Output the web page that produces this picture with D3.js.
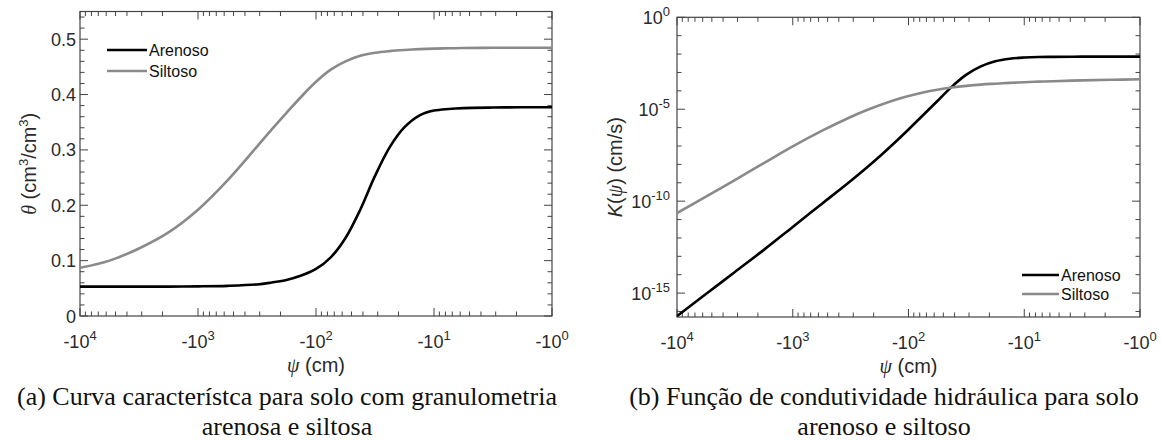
<!DOCTYPE html>
<html>
<head>
<meta charset="utf-8">
<script src="https://cdn.jsdelivr.net/npm/d3@7"></script>
<style>
  html, body { margin: 0; padding: 0; background: #fff; }
  svg { display: block; }
</style>
</head>
<body>
<svg id="chart" width="1161" height="441"></svg>
<script>
// ---------------- DATA ----------------
const psi = [-10000, -5623, -3162, -1778, -1000, -562.3, -316.2, -237.1, -177.8, -133.4, -100, -74.99, -56.23, -42.17, -31.62, -23.71, -17.78, -13.34, -10, -7.499, -5.623, -3.162, -1.778, -1];
const seriesNames = ["Arenoso", "Siltoso"];
const thetaArenoso = [0.053, 0.053, 0.053, 0.053, 0.0535, 0.0545, 0.057, 0.0605, 0.065, 0.073, 0.085, 0.106, 0.141, 0.192, 0.253, 0.305, 0.341, 0.362, 0.371, 0.374, 0.3755, 0.3765, 0.377, 0.377];
const thetaSiltoso = [0.087, 0.100, 0.122, 0.151, 0.192, 0.245, 0.306, 0.337, 0.367, 0.396, 0.423, 0.445, 0.460, 0.470, 0.4755, 0.4785, 0.4805, 0.482, 0.483, 0.4835, 0.484, 0.4845, 0.4845, 0.4845];
const kArenoso = [5.6e-17, 8.9e-16, 1.41e-14, 2.24e-13, 3.98e-12, 7.08e-11, 1.26e-9, 5.62e-9, 2.69e-8, 1.41e-7, 7.94e-7, 4.68e-6, 2.82e-5, 1.70e-4, 7.59e-4, 2.14e-3, 4.07e-3, 5.62e-3, 6.46e-3, 6.92e-3, 7.08e-3, 7.24e-3, 7.24e-3, 7.24e-3];
const kSiltoso = [2.24e-11, 1.78e-10, 1.41e-9, 1.17e-8, 9.55e-8, 6.61e-7, 3.80e-6, 8.32e-6, 1.66e-5, 3.09e-5, 5.25e-5, 8.13e-5, 1.15e-4, 1.51e-4, 1.86e-4, 2.19e-4, 2.45e-4, 2.72e-4, 2.95e-4, 3.16e-4, 3.35e-4, 3.72e-4, 3.98e-4, 4.27e-4];
const xTickExps = [4, 3, 2, 1, 0];
const thetaTicks = [0, 0.1, 0.2, 0.3, 0.4, 0.5];
const kTickExps = [0, -5, -10, -15];
const captionA = ["(a) Curva característca para solo com granulometria", "arenosa e siltosa"];
const captionB = ["(b) Função de condutividade hidráulica para solo", "arenoso e siltoso"];

// ---------------- STYLE ----------------
const COL = { Arenoso: "#000000", Siltoso: "#8a8a8a" };
const AXIS = "#444444", TXT = "#2a2a2a";
const SANS = "'Liberation Sans', Arial, sans-serif";
const SERIF = "'Liberation Serif', 'Times New Roman', serif";
const MAJ = 8, MIN = 4.5;

const svg = d3.select("#chart");
svg.append("rect").attr("width", 1161).attr("height", 441).attr("fill", "#fff");

function supText(sel, base, sup, size, supSize, shift) {
  sel.append("tspan").text(base);
  sel.append("tspan").attr("font-size", supSize).attr("dy", -shift).text(sup);
}

function panel(cfg) {
  const g = svg.append("g");
  const x = d3.scaleLog().domain([1e4, 1]).range([cfg.x0, cfg.x1]);
  const y = cfg.y;
  const [y0, y1] = [cfg.y0, cfg.y1];

  // x ticks (log minors)
  const minors = [];
  for (let d = 0; d < 4; d++) for (let m = 2; m <= 9; m++) minors.push(m * Math.pow(10, d));
  const tk = g.append("g").attr("stroke", AXIS).attr("stroke-width", 1);
  minors.forEach(v => {
    const px = x(v);
    tk.append("line").attr("x1", px).attr("x2", px).attr("y1", y1).attr("y2", y1 - MIN);
    tk.append("line").attr("x1", px).attr("x2", px).attr("y1", y0).attr("y2", y0 + MIN);
  });
  xTickExps.forEach(e => {
    const px = x(Math.pow(10, e));
    tk.append("line").attr("x1", px).attr("x2", px).attr("y1", y1).attr("y2", y1 - MAJ);
    tk.append("line").attr("x1", px).attr("x2", px).attr("y1", y0).attr("y2", y0 + MAJ);
    const t = g.append("text").attr("x", px).attr("y", y1 + 32).attr("text-anchor", "middle")
      .attr("font-family", SANS).attr("font-size", 18).attr("fill", TXT);
    supText(t, "-10", String(e), 18, 13, 8);
  });

  // y ticks
  cfg.yTicks.forEach(tv => {
    const py = y(tv.v), len = tv.major ? MAJ : MIN;
    tk.append("line").attr("x1", cfg.x0).attr("x2", cfg.x0 + len).attr("y1", py).attr("y2", py);
    tk.append("line").attr("x1", cfg.x1).attr("x2", cfg.x1 - len).attr("y1", py).attr("y2", py);
    if (tv.label) {
      const t = g.append("text").attr("x", cfg.x0 - cfg.labelGap).attr("y", py + 6.5)
        .attr("text-anchor", "end").attr("font-family", SANS).attr("font-size", 18).attr("fill", TXT);
      if (tv.sup !== undefined) supText(t, tv.label, tv.sup, 18, 13, 8);
      else t.text(tv.label);
    }
  });

  // box
  g.append("rect").attr("x", cfg.x0).attr("y", y0).attr("width", cfg.x1 - cfg.x0).attr("height", y1 - y0)
    .attr("fill", "none").attr("stroke", AXIS).attr("stroke-width", 1.2);

  // curves
  const clipId = "clip" + cfg.id;
  svg.append("clipPath").attr("id", clipId).append("rect")
    .attr("x", cfg.x0).attr("y", y0 - 2).attr("width", cfg.x1 - cfg.x0).attr("height", y1 - y0 + 2);
  const line = d3.line().x(d => x(-d[0])).y(d => y(d[1])).curve(d3.curveCatmullRom.alpha(0.5));
  cfg.series.forEach((vals, i) => {
    const name = seriesNames[i];
    g.append("path").attr("clip-path", `url(#${clipId})`)
      .datum(psi.map((p, j) => [p, vals[j]]))
      .attr("d", line).attr("fill", "none").attr("stroke", COL[name]).attr("stroke-width", 2.6)
      .attr("stroke-linejoin", "round");
  });

  // legend
  seriesNames.forEach((name, i) => {
    const ly = cfg.leg.y[i];
    g.append("line").attr("x1", cfg.leg.x1).attr("x2", cfg.leg.x2).attr("y1", ly).attr("y2", ly)
      .attr("stroke", COL[name]).attr("stroke-width", 2.6);
    g.append("text").attr("x", cfg.leg.x2 + 2).attr("y", ly).attr("dy", "0.35em")
      .attr("font-family", SANS).attr("font-size", 16).attr("fill", "#111").text(name);
  });

  // x label
  const xl = g.append("text").attr("x", (cfg.x0 + cfg.x1) / 2).attr("y", y1 + 56)
    .attr("text-anchor", "middle").attr("font-family", SANS).attr("font-size", 20).attr("fill", TXT);
  xl.append("tspan").attr("font-family", SERIF).attr("font-style", "italic").text("ψ");
  xl.append("tspan").text(" (cm)");

  // y label
  const yl = g.append("text").attr("transform", `translate(${cfg.ylx},${(y0 + y1) / 2}) rotate(-90)`)
    .attr("text-anchor", "middle").attr("dy", "0.35em").attr("font-family", SANS).attr("font-size", 20).attr("fill", TXT);
  cfg.ylabel(yl);

  // caption
  cfg.caption.forEach((c, i) => {
    g.append("text").attr("x", cfg.capX).attr("y", 405 + i * 30).attr("text-anchor", "middle")
      .attr("font-family", SERIF).attr("font-size", 26).attr("fill", "#111").text(c);
  });
}

// ---------- panel (a) ----------
const yA = d3.scaleLinear().domain([0, 0.55]).range([316, 11.5]);
const ticksA = [];
for (let k = 0; k <= 27; k++) {
  const v = k * 0.02;
  if (k % 5 === 0) continue;
  ticksA.push({ v, major: false });
}
thetaTicks.forEach(v => ticksA.push({ v, major: true, label: v === 0 ? "0" : String(v) }));

panel({
  id: "a", x0: 80, x1: 552, y0: 11.5, y1: 316, y: yA, yTicks: ticksA, labelGap: 4,
  series: [thetaArenoso, thetaSiltoso],
  leg: { x1: 107, x2: 147, y: [50, 71] },
  ylx: 29,
  ylabel: t => {
    t.append("tspan").attr("font-family", SERIF).attr("font-style", "italic").text("θ");
    t.append("tspan").text(" (cm");
    t.append("tspan").attr("font-size", 13).attr("dy", -8).text("3");
    t.append("tspan").attr("dy", 8).text("/cm");
    t.append("tspan").attr("font-size", 13).attr("dy", -8).text("3");
    t.append("tspan").attr("dy", 8).text(")");
  },
  caption: captionA, capX: 287
});

// ---------- panel (b) ----------
const yB = d3.scaleLog().domain([Math.pow(10, -16.3), 1]).range([317, 17.3]);
const ticksB = [];
for (let e = 0; e >= -16; e--) {
  const major = kTickExps.includes(e);
  ticksB.push({ v: Math.pow(10, e), major, label: major ? "10" : undefined, sup: major ? String(e) : undefined });
}
panel({
  id: "b", x0: 677, x1: 1140, y0: 17.3, y1: 317, y: yB, yTicks: ticksB, labelGap: 7,
  series: [kArenoso, kSiltoso],
  leg: { x1: 1022, x2: 1059, y: [275, 294] },
  ylx: 615,
  ylabel: t => {
    t.append("tspan").attr("font-style", "italic").text("K");
    t.append("tspan").text("(");
    t.append("tspan").attr("font-family", SERIF).attr("font-style", "italic").text("ψ");
    t.append("tspan").text(") (cm/s)");
  },
  caption: captionB, capX: 884
});
</script>
</body>
</html>
